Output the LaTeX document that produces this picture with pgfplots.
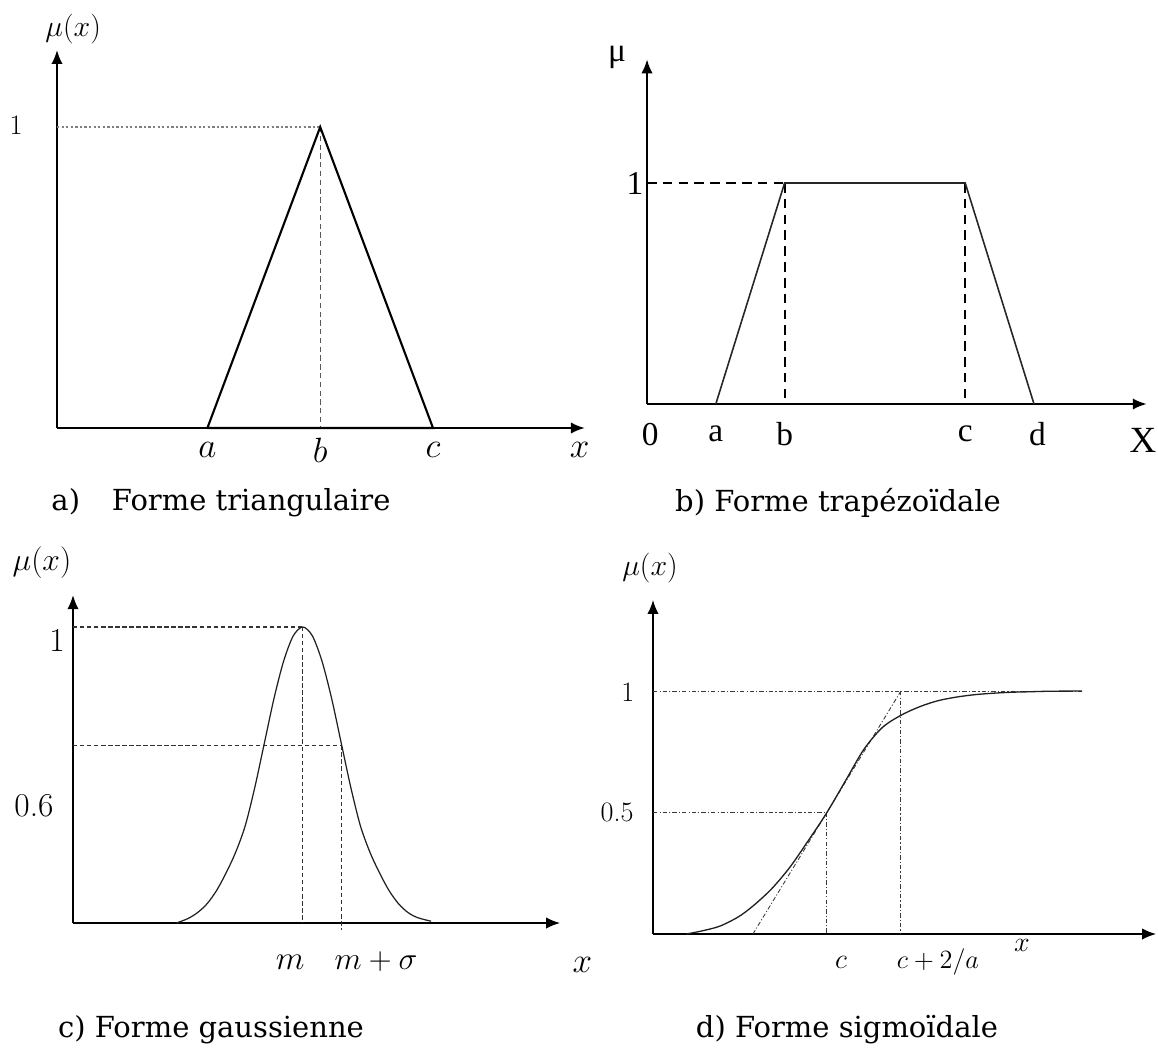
\RequirePackage{fix-cm}
\documentclass[border=0pt]{standalone}
\usepackage{fontspec}
\usepackage{pgfplots}
\pgfplotsset{compat=1.18}
\usetikzlibrary{arrows.meta}
\newfontfamily\capfont{DejaVu Serif}
\newfontfamily\romfont{Liberation Serif}
\newcommand{\fs}[1]{\fontsize{#1}{#1}\selectfont}

\pgfplotsset{
  mf/.style={
    axis lines=left, xtick=\empty, ytick=\empty,
    xmin=0, ymin=0, clip=false, scale only axis, anchor=origin,
    axis line style={line width=1.1pt, -{Latex[length=8pt,width=6.5pt]}},
  },
}

\begin{document}
\begin{tikzpicture}
\path[use as bounding box] (0,0) rectangle (23.16cm,-20.96cm);

% ---------- a) triangular membership function ----------
\begin{axis}[mf, at={(1.14cm,-8.56cm)}, x=0.752cm, y=6.02cm, xmax=14.04, ymax=1.256,
    axis line style={line width=1.25pt}]
  \addplot[gray, line width=0.6pt, dash pattern=on 1.3pt off 1.3pt] coordinates {(0,1) (7,1)};
  \addplot[gray!70!black, line width=0.5pt, dash pattern=on 3pt off 2pt] coordinates {(7,1) (7,0)};
  \addplot[black, line width=1.2pt] coordinates {(4,0) (7,1) (10,0) (4,0)};
  \node[font=\fs{17}] at (axis cs:0.43,1.326) {$\mu(x)$};
  \node[font=\fs{16}] at (axis cs:-1.09,1.007) {1};
  \node[font=\fs{20}] at (axis cs:4,-0.073) {$a$};
  \node[font=\fs{20}] at (axis cs:7,-0.073) {$b$};
  \node[font=\fs{20}] at (axis cs:10,-0.073) {$c$};
  \node[font=\fs{20}] at (axis cs:13.9,-0.073) {$x$};
\end{axis}
\node[font=\capfont\fs{16.5}] at (4.42cm,-10.06cm) {a)\hspace{1.1em}Forme triangulaire};

% ---------- b) trapezoidal membership function ----------
\begin{axis}[mf, at={(12.94cm,-8.08cm)}, x=0.688cm, y=4.42cm, xmax=14.53, ymax=1.56,
    axis line style={line width=1.4pt}]
  \addplot[black, line width=1.1pt, dash pattern=on 5.5pt off 3.5pt] coordinates {(0,1) (4,1)};
  \addplot[black, line width=1.1pt, dash pattern=on 5.5pt off 3.5pt] coordinates {(4,1) (4,0)};
  \addplot[black, line width=1.1pt, dash pattern=on 5.5pt off 3.5pt] coordinates {(9.25,1) (9.25,0)};
  \addplot[black!85, line width=0.9pt] coordinates {(2,0) (4,1) (9.25,1) (11.25,0)};
  \node[font=\romfont\fs{19}] at (axis cs:-0.87,1.57) {μ};
  \node[font=\romfont\fs{19}] at (axis cs:-0.35,1.0) {1};
  \node[font=\romfont\fs{19}] at (axis cs:0.09,-0.136) {0};
  \node[font=\romfont\fs{19}] at (axis cs:2.0,-0.136) {a};
  \node[font=\romfont\fs{19}] at (axis cs:4.0,-0.136) {b};
  \node[font=\romfont\fs{19}] at (axis cs:9.25,-0.136) {c};
  \node[font=\romfont\fs{19}] at (axis cs:11.35,-0.136) {d};
  \node[font=\romfont\fs{21}] at (axis cs:14.42,-0.167) {X};
\end{axis}
\node[font=\capfont\fs{16.5}] at (16.76cm,-10.06cm) {b) Forme trapézoïdale};

% ---------- c) Gaussian membership function ----------
\begin{axis}[mf, at={(1.46cm,-18.46cm)}, x=0.766cm, y=5.92cm, xmax=12.72, ymax=1.108]
  \addplot[gray!40!black, line width=0.6pt, dash pattern=on 2.5pt off 1.5pt] coordinates {(0,1) (6,1)};
  \addplot[gray!40!black, line width=0.6pt, dash pattern=on 2.5pt off 1.5pt] coordinates {(6,1) (6,0)};
  \addplot[gray!40!black, line width=0.6pt, dash pattern=on 2.5pt off 1.5pt] coordinates {(0,0.6) (7,0.6)};
  \addplot[gray!40!black, line width=0.6pt, dash pattern=on 2.5pt off 1.5pt] coordinates {(7,0.6) (7,-0.025)};
  \addplot[gray!25!black, line width=0.7pt, smooth] coordinates {
    (2.7,0.0) (3.0,0.015) (3.25,0.035) (3.5,0.065) (3.75,0.11) (4.0,0.17)
    (4.25,0.24) (4.5,0.33) (4.75,0.46) (5.0,0.61) (5.25,0.76) (5.5,0.885)
    (5.75,0.97) (6.0,1.0) (6.25,0.97) (6.5,0.885) (6.75,0.76) (7.0,0.61)
    (7.25,0.46) (7.5,0.33) (7.75,0.24) (8.0,0.17) (8.25,0.11) (8.5,0.065)
    (8.75,0.035) (9.0,0.018) (9.35,0.006)};
  \node[font=\fs{18}] at (axis cs:-0.81,1.216) {$\mu(x)$};
  \node[font=\fs{19}] at (axis cs:-0.42,0.956) {1};
  \node[font=\fs{19}] at (axis cs:-1.02,0.395) {0.6};
  \node[font=\fs{19}] at (axis cs:5.67,-0.132) {$m$};
  \node[font=\fs{18}] at (axis cs:7.91,-0.132) {$m+\sigma$};
  \node[font=\fs{20}] at (axis cs:13.3,-0.142) {$x$};
\end{axis}
\node[font=\capfont\fs{16.5}] at (4.22cm,-20.6cm) {c) Forme gaussienne};

% ---------- d) sigmoidal membership function ----------
\begin{axis}[mf, at={(13.06cm,-18.68cm)}, x=0.74cm, y=4.86cm, xmax=13.6, ymax=1.375]
  \pgfplotsset{dd/.style={gray!45!black, line width=0.5pt,
      dash pattern=on 2.5pt off 1.2pt on 0.6pt off 1.2pt}}
  \addplot[dd] coordinates {(0,1) (11.6,1)};
  \addplot[dd] coordinates {(0,0.5) (4.7,0.5)};
  \addplot[dd] coordinates {(4.7,0.5) (4.7,0)};
  \addplot[dd] coordinates {(6.7,1) (6.7,0)};
  \addplot[dd] coordinates {(2.7,0) (6.7,1)};
  \addplot[gray!25!black, line width=0.75pt, smooth] coordinates {
    (0.9,0.0) (1.3,0.012) (1.8,0.032) (2.3,0.07) (2.7,0.115) (3.2,0.185)
    (3.7,0.275) (4.2,0.385) (4.7,0.5) (5.2,0.63) (5.7,0.76) (6.2,0.85)
    (6.7,0.9) (7.2,0.935) (7.7,0.96) (8.2,0.975) (8.7,0.985) (9.2,0.991)
    (9.7,0.995) (10.2,0.997) (10.7,0.999) (11.6,1.0)};
  \node[font=\fs{17}] at (axis cs:-0.08,1.506) {$\mu(x)$};
  \node[font=\fs{16}] at (axis cs:-0.68,0.996) {1};
  \node[font=\fs{16}] at (axis cs:-0.97,0.502) {0.5};
  \node[font=\fs{16}] at (axis cs:5.08,-0.115) {$c$};
  \node[font=\fs{15}] at (axis cs:7.7,-0.115) {$c+2/a$};
  \node[font=\fs{16}] at (axis cs:9.97,-0.045) {$x$};
\end{axis}
\node[font=\capfont\fs{16.5}] at (16.94cm,-20.6cm) {d) Forme sigmoïdale};
\end{tikzpicture}
\end{document}
